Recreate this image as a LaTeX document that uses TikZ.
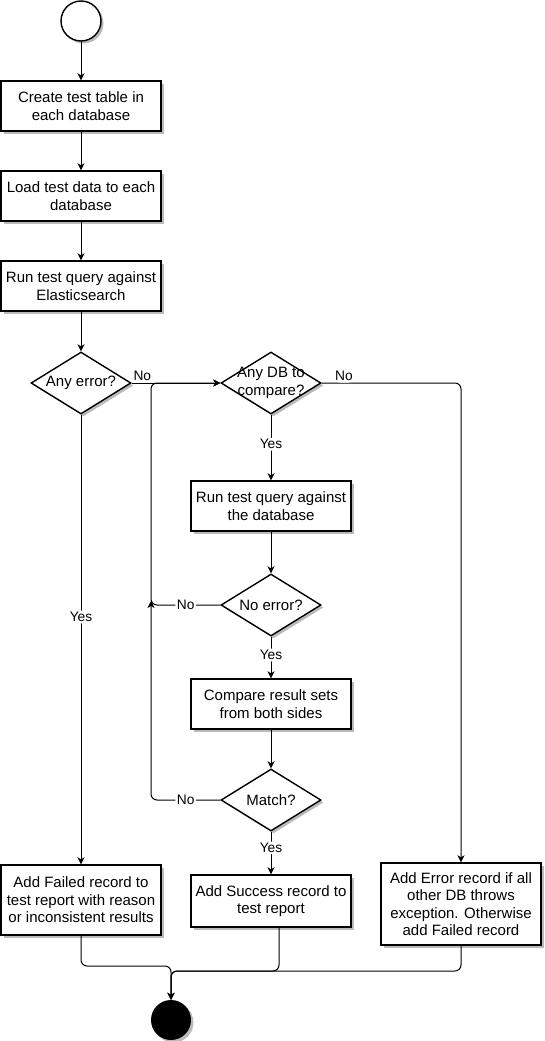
\documentclass[tikz,border=0pt]{standalone}
\usepackage{fontspec}
\setmainfont{Liberation Sans}
\usetikzlibrary{shapes.geometric,arrows.meta,shadows}

\tikzset{
  shade/.style={drop shadow={shadow xshift=2.5pt, shadow yshift=-2.5pt, fill=black!45, opacity=0.6}},
  box/.style={draw, line width=1.4pt, fill=white, minimum width=160pt, align=center, shade},
  decision/.style={diamond, draw, line width=1.4pt, fill=white, minimum width=100pt,
    minimum height=62pt, inner sep=0pt, aspect=1.6, shade},
  flow/.style={line width=1pt, rounded corners=6pt, -{Stealth[length=7pt,width=7pt,inset=2pt]}},
  lbl/.style={fill=white, inner sep=1.5pt, font=\fontsize{13.75}{16}\selectfont},
}

\begin{document}
\begin{tikzpicture}[x=1pt, y=-1pt, font=\fontsize{15}{17.5}\selectfont]
  \useasboundingbox (0,0) rectangle (545,1041);

  % Draw start and stop
  \node[circle, draw, line width=1.4pt, fill=white, minimum size=40pt, shade] (start) at (81,21) {};
  \node[circle, fill=black, minimum size=40pt, shade] (stop) at (171,1020) {};

  % Draw steps against Elasticsearch
  \node[box, minimum height=50pt] (create) at (81,106) {Create test table in\\each database};
  \node[box, minimum height=50pt] (load) at (81,196) {Load test data to each\\database};
  \node[box, minimum height=50pt] (runes) at (81,286) {Run test query against\\Elasticsearch};
  \node[decision, label={[align=center]center:Any error?}] (anyerr) at (81,383) {};

  % Draw loop over the databases
  \node[decision, label={[align=center]center:Any DB to\\compare?}] (anydb) at (271,383) {};
  \node[box, minimum height=50pt] (rundb) at (271,506) {Run test query against\\the database};
  \node[decision, label={[align=center]center:No error?}] (noerr) at (271,605) {};
  \node[box, minimum height=50pt] (compare) at (271,704) {Compare result sets\\from both sides};
  \node[decision, label={[align=center]center:Match?}] (match) at (271,800) {};

  % Draw records for the test report
  \node[box, minimum height=70pt] (failed) at (81,900) {Add Failed record to\\test report with reason\\or inconsistent results};
  \node[box, minimum height=52pt] (success) at (271,901) {Add Success record to\\test report};
  \node[box, minimum height=82pt] (error) at (461,904) {Add Error record if all\\other DB throws\\exception. Otherwise\\add Failed record};

  \coordinate (loopx) at (151,0);
  \coordinate (join) at (171,971);

  % Draw connectors
  \foreach \a/\b in {start/create, create/load, load/runes, runes/anyerr, rundb/noerr, compare/match}
    \draw[flow] (\a) -- (\b);

  \draw[flow] (anyerr.east) -- node[lbl, pos=0.12, above] {No} (anydb.west);
  \draw[flow] (anyerr.south) -- node[lbl, pos=0.45] {Yes} (failed.north);
  \draw[flow] (anydb.south) -- node[lbl, pos=0.45] {Yes} (rundb.north);
  \draw[flow] (anydb.east) -| node[lbl, pos=0.08, above] {No} (error.north);
  \draw[flow] (noerr.south) -- node[lbl, pos=0.44] {Yes} (compare.north);
  \draw[flow] (match.south) -- node[lbl, pos=0.38] {Yes} (success.north);

  \draw[flow] (noerr.west) -- node[lbl] {No} (noerr.west -| loopx) |- (anydb.west);
  \draw[flow] (match.west) -- node[lbl] {No} (match.west -| loopx) -- ([yshift=4pt]noerr.west -| loopx);

  \draw[flow] (failed.south) |- ([yshift=5pt]join) -- (stop.north);
  \draw[flow] ([xshift=8pt]success.south) |- (join) -- (stop.north);
  \draw[flow] (error.south) |- (join) -- (stop.north);
\end{tikzpicture}
\end{document}
